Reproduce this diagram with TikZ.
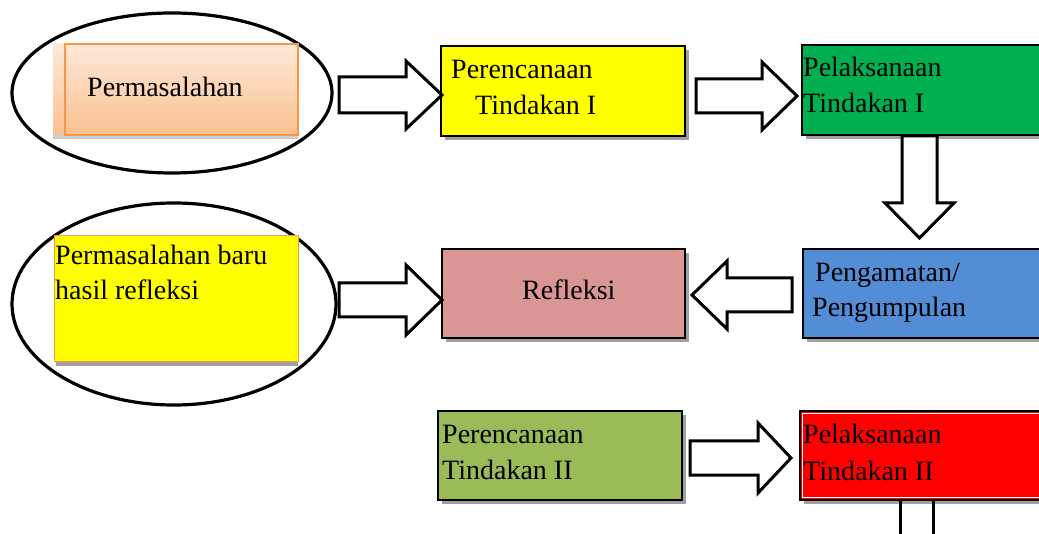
\documentclass[tikz,border=0pt]{standalone}
\usepackage{fontspec}
\setmainfont{Liberation Serif}
\definecolor{peachtop}{RGB}{253,233,217}
\definecolor{peachbot}{RGB}{250,192,144}
\definecolor{peachline}{RGB}{247,150,70}
\definecolor{yel}{RGB}{255,255,0}
\definecolor{grn}{RGB}{0,176,80}
\definecolor{blu}{RGB}{83,141,213}
\definecolor{pnk}{RGB}{217,150,148}
\definecolor{olv}{RGB}{155,187,89}
\definecolor{rd}{RGB}{255,0,0}
\definecolor{shd}{RGB}{160,160,160}
\newcommand\harrow[6]{% x0 xh xt yc shaft-half head-half
  \draw[blk] (#1,#4-#5) -- (#2,#4-#5) -- (#2,#4-#6) -- (#3,#4) -- (#2,#4+#6) -- (#2,#4+#5) -- (#1,#4+#5) -- cycle;}
\newcommand\varrow[6]{% y0 yh yt xc shaft-half head-half
  \draw[blk] (#4-#5,#1) -- (#4-#5,#2) -- (#4-#6,#2) -- (#4,#3) -- (#4+#6,#2) -- (#4+#5,#2) -- (#4+#5,#1) -- cycle;}
\begin{document}
\begin{tikzpicture}[x=1pt,y=-1pt,
  box/.style={draw=black,line width=1.5pt,inner sep=0pt,outer sep=0pt,anchor=north west},
  lbl/.style={inner sep=0pt,anchor=base west,font=\fontsize{28}{36}\selectfont},
  blk/.style={draw=black,line width=3pt,fill=white,line join=miter},
  ring/.style={draw=black,line width=3.2pt},
  shadowc/.style={fill=shd}]
\useasboundingbox (0,0) rectangle (1039,534);
\begin{scope}
\clip (0,0) rectangle (1039,534);
% ellipses
\draw[ring] (172,93) ellipse [x radius=160, y radius=80];
\draw[ring] (174,304) ellipse [x radius=162, y radius=101];
% shadows
\fill[fill=black!20] (53,135) rectangle (298,139);
\fill[shadowc] (445,50) rectangle (689,140);
\fill[shadowc] (806,49) rectangle (1045,139);
\fill[shadowc] (807,253) rectangle (1045,342);
\fill[shadowc] (446,253) rectangle (689,342);
\fill[shadowc] (56,362) rectangle (298,366);
\fill[shadowc] (442,415) rectangle (686,504);
\fill[shadowc] (804,415) rectangle (1045,504);
% boxes
\fill[top color=peachtop,bottom color=peachbot] (53,44) rectangle (298,135);
\node[box,draw=peachline,line width=1.3pt,top color=peachtop,bottom color=peachbot,minimum width=233pt,minimum height=91pt] (p0) at (65,44) {};
\node[box,fill=yel,minimum width=244pt,minimum height=90pt] (p1) at (441,46) {};
\node[box,fill=grn,minimum width=243pt,minimum height=90pt] (p2) at (802,45) {};
\node[box,fill=blu,minimum width=242pt,minimum height=89pt] (p3) at (803,249) {};
\node[box,fill=pnk,minimum width=243pt,minimum height=89pt] (p4) at (442,249) {};
\node[box,draw=peachline,line width=1pt,fill=yel,minimum width=244pt,minimum height=126pt] (p5) at (54,236) {};
\node[box,fill=olv,minimum width=244pt,minimum height=89pt] (p6) at (438,411) {};
\node[box,fill=rd,minimum width=245pt,minimum height=89pt] (p7) at (800,411) {};
\draw[white,line width=1.2pt] (802.2,413.2) rectangle (1047,497.8);
% labels
\node[lbl] (t0) at (87,97) {Permasalahan};
\node[lbl] (t1a) at (451,79) {Perencanaan};
\node[lbl] (t1b) at (475,115) {Tindakan I};
\node[lbl] (t2a) at (803,77) {Pelaksanaan};
\node[lbl] (t2b) at (803,113) {Tindakan I};
\node[lbl] (t3a) at (815,282) {Pengamatan/};
\node[lbl] (t3b) at (812,317) {Pengumpulan};
\node[lbl] (t4) at (522,300) {Refleksi};
\node[lbl] (t5a) at (55,265) {Permasalahan baru};
\node[lbl] (t5b) at (55,300) {hasil refleksi};
\node[lbl] (t6a) at (442,443) {Perencanaan};
\node[lbl] (t6b) at (442,479) {Tindakan II};
\node[lbl] (t7a) at (803,443) {Pelaksanaan};
\node[lbl] (t7b) at (803,480) {Tindakan II};
% block arrows
\harrow{339}{406}{442}{95}{18}{34}
\harrow{696}{762}{797}{96}{17}{34}
\varrow{136}{203}{238}{919.5}{17.5}{34.5}
\harrow{792}{727}{692}{295}{17}{34}
\harrow{339}{406}{442}{300}{17}{35}
\harrow{690}{758}{791}{458}{17}{35}
\draw[line width=3pt] (900,501) -- (900,540) (933,501) -- (933,540);
\end{scope}
\end{tikzpicture}
\end{document}
